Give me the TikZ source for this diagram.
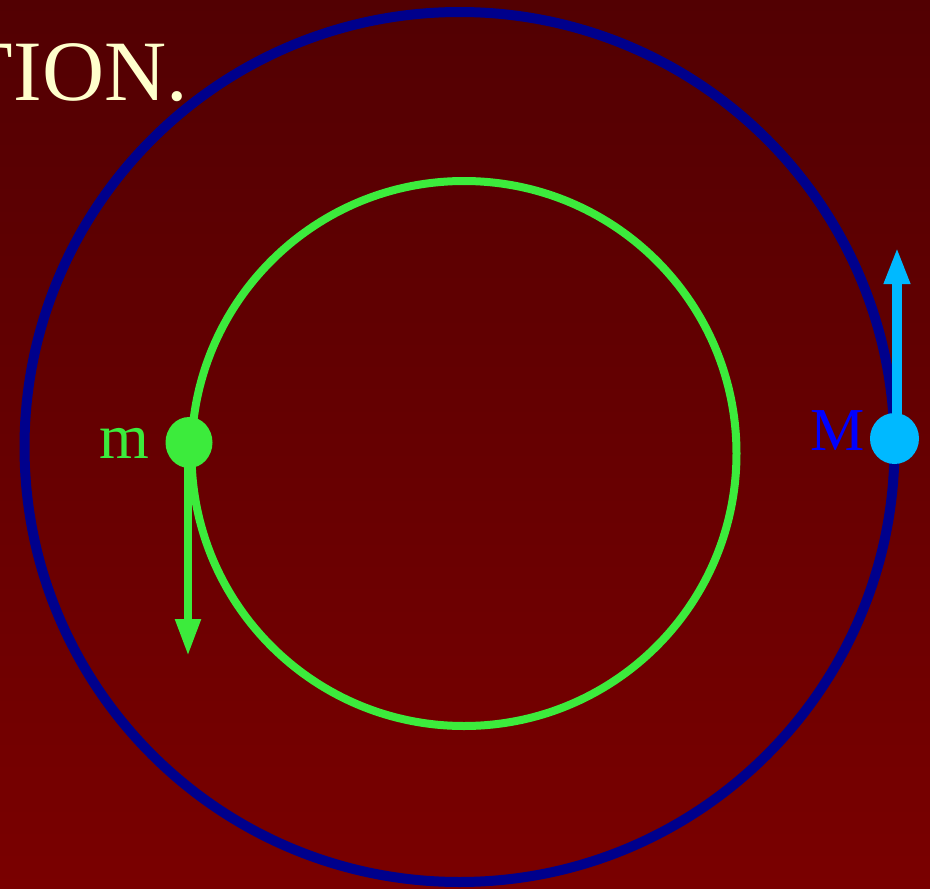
\documentclass[tikz,border=0pt]{standalone}
\usepackage{fontspec}
\setmainfont{Liberation Serif}
\usetikzlibrary{arrows.meta, shapes.geometric}
\definecolor{bgtop}{RGB}{82,0,2}
\definecolor{bgbottom}{RGB}{122,0,0}
\definecolor{orbitblue}{RGB}{0,0,140}
\definecolor{orbitgreen}{RGB}{60,235,60}
\definecolor{bodyblue}{RGB}{0,185,255}
\definecolor{labelblue}{RGB}{0,0,255}
\definecolor{titlecream}{RGB}{255,255,204}

\begin{document}
\begin{tikzpicture}[
  x=1pt, y=-1pt,
  orbit/.style={circle, draw, inner sep=0pt, fill=none},
  body/.style={ellipse, inner sep=0pt, minimum width=47pt, minimum height=51pt},
  vel/.style={-{Triangle[length=37pt, width=24pt]}, line cap=butt},
  lbl/.style={font=\fontsize{64}{70}\selectfont, inner sep=0pt, anchor=base east}
]
\useasboundingbox (0,0) rectangle (930,889);
\shade[top color=bgtop, bottom color=bgbottom] (0,0) rectangle (930,889);
% title fragment
\node[font=\fontsize{86}{90}\selectfont, text=titlecream, inner sep=0pt,
  anchor=base east] (title) at (188,100) {TION.};
% orbits
\node[orbit, draw=orbitblue, line width=10pt, minimum size=870pt] (orbitM) at (459.5,447) {};
\node[orbit, draw=orbitgreen, line width=8pt, minimum size=545pt] (orbitm) at (464,453.5) {};
% bodies
\node[body, fill=orbitgreen] (mdot) at (189,442.5) {};
\node[body, fill=bodyblue, minimum width=49pt] (Mdot) at (894.5,438.5) {};
\node[lbl, text=orbitgreen] (mlabel) at (149,458) {m};
\node[lbl, text=labelblue, font=\fontsize{61}{66}\selectfont] (Mlabel) at (865,450) {M};
% velocities
\coordinate (mtip) at (188,656);
\coordinate (Mtip) at (897,247);
\draw[vel, draw=orbitgreen, fill=orbitgreen, line width=8pt] (mdot.center -| mtip) -- (mtip);
\draw[vel, draw=bodyblue, fill=bodyblue, line width=10pt] (Mdot.center -| Mtip) -- (Mtip);
\end{tikzpicture}
\end{document}
